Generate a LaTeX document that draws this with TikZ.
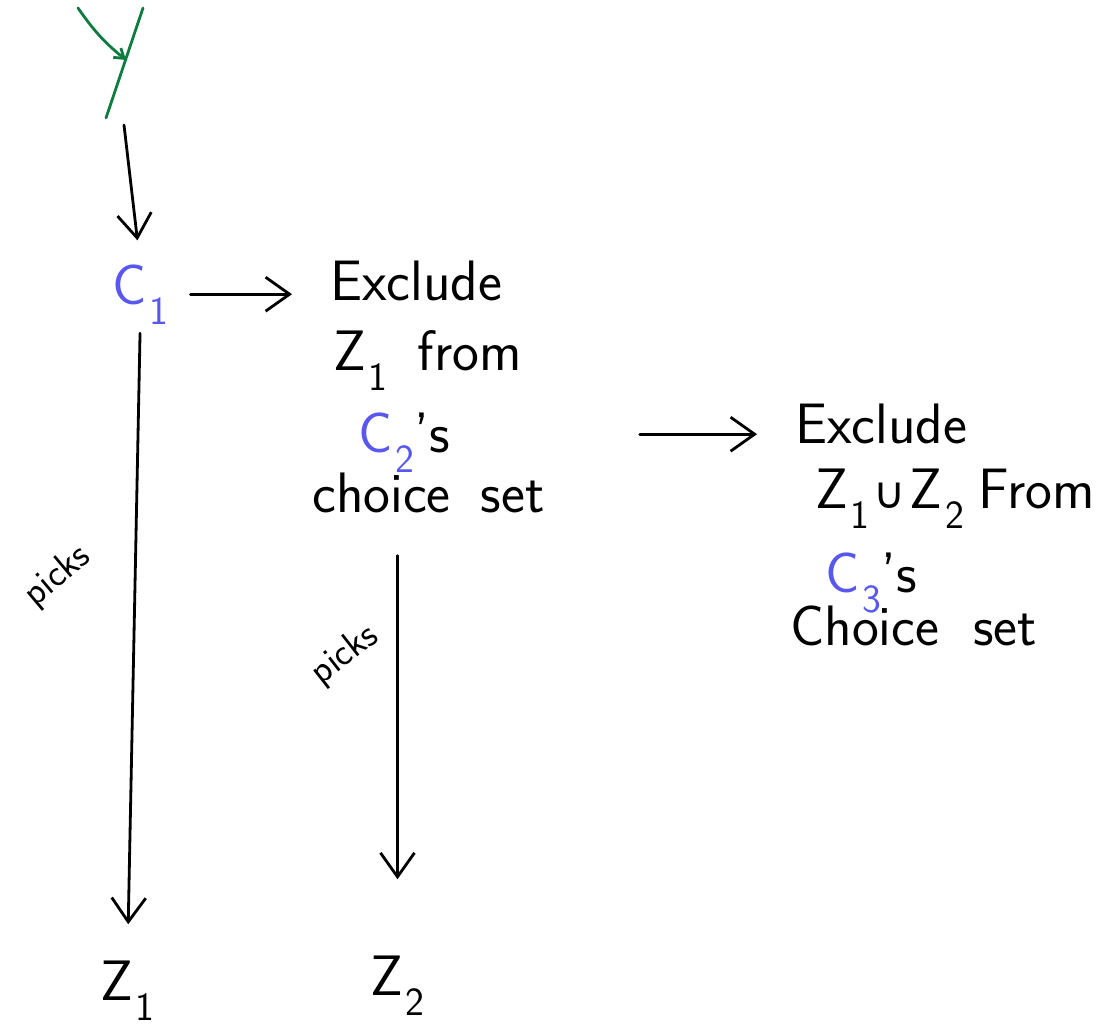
\documentclass[tikz,border=0pt]{standalone}
\usepackage{fontspec}
\newfontfamily\symfont{DejaVu Sans}
\usetikzlibrary{arrows.meta}

\definecolor{penblue}{RGB}{88,88,240}
\definecolor{pengreen}{RGB}{12,125,62}

% handwritten-style index, set low and fairly large
\newcommand{\lowsub}[1]{\kern3pt\raisebox{-20pt}{\fontsize{40}{40}\selectfont #1}}

\tikzset{
  pen/.style={line width=2.8pt, line cap=round, line join=round},
  tip/.style={-{Straight Barb[length=24pt, width=34pt, line width=2.8pt]}},
  hand/.style={font=\sffamily\fontsize{57}{60}\selectfont, inner sep=0pt, anchor=base west},
  note/.style={font=\sffamily\fontsize{38}{40}\selectfont, inner sep=0pt}
}

\begin{document}
\begin{tikzpicture}[x=1pt, y=-1pt]
\useasboundingbox (0,0) rectangle (1107,1028);

%draw incoming green feed
\coordinate (gtop) at (143,8);
\coordinate (gbot) at (106,118);
\coordinate (gside) at (78,8);
\coordinate (gmeet) at (126,60);
\draw[pen, pengreen] (gtop) -- (gbot);
\draw[pen, pengreen, -{Straight Barb[length=9pt, width=12pt]}] (gside) to [bend right=8] (gmeet);

%first chooser
\node[hand, penblue] (c1) at (112,304) {C\lowsub{1}};
\coordinate (feed) at (124,125);
\draw[pen, tip, shorten >=24pt] (feed) -- (c1.north);

%first exclusion
\node[hand] (exa) at (330,300) {Exclude};
\node[hand] (exb) at (333,370) {Z\lowsub{1}\kern30pt from};
\node[hand] (exc) at (358,452) {{\color{penblue}C\lowsub{2}}'s};
\node[hand] (exd) at (312,512) {choice\kern30pt set};

%second exclusion
\node[hand] (eya) at (795,443) {Exclude};
\node[hand] (eyb) at (815,508) {Z\lowsub{1}\kern4pt{\symfont\fontsize{44}{44}\selectfont ∪}\kern4pt Z\lowsub{2}\kern14pt From};
\node[hand] (eyc) at (825,592) {{\color{penblue}C\lowsub{3}}'s};
\node[hand] (eyd) at (790,645) {Choice\kern34pt set};

%picked items
\node[hand] (z1) at (100,1000) {Z\lowsub{1}};
\node[hand] (z2) at (370,995) {Z\lowsub{2}};

%draw arrows
\draw[pen, tip, shorten <=22pt, shorten >=38pt] (c1.east) -- (c1.east -| exa.west);
\draw[pen, tip, shorten <=190pt, shorten >=38pt] ([yshift=8pt]exc.east) -- ([yshift=8pt]exc.east -| eya.west);
\draw[pen, tip, shorten <=9pt, shorten >=36pt] (c1.south) -- (z1.north);
\draw[pen, tip, shorten <=43pt, shorten >=76pt] (z2.north |- exd.south) -- (z2.north);

\node[note, rotate=40] (pk1) at (58,576) {picks};
\node[note, rotate=38] (pk2) at (345,655) {picks};
\end{tikzpicture}
\end{document}
